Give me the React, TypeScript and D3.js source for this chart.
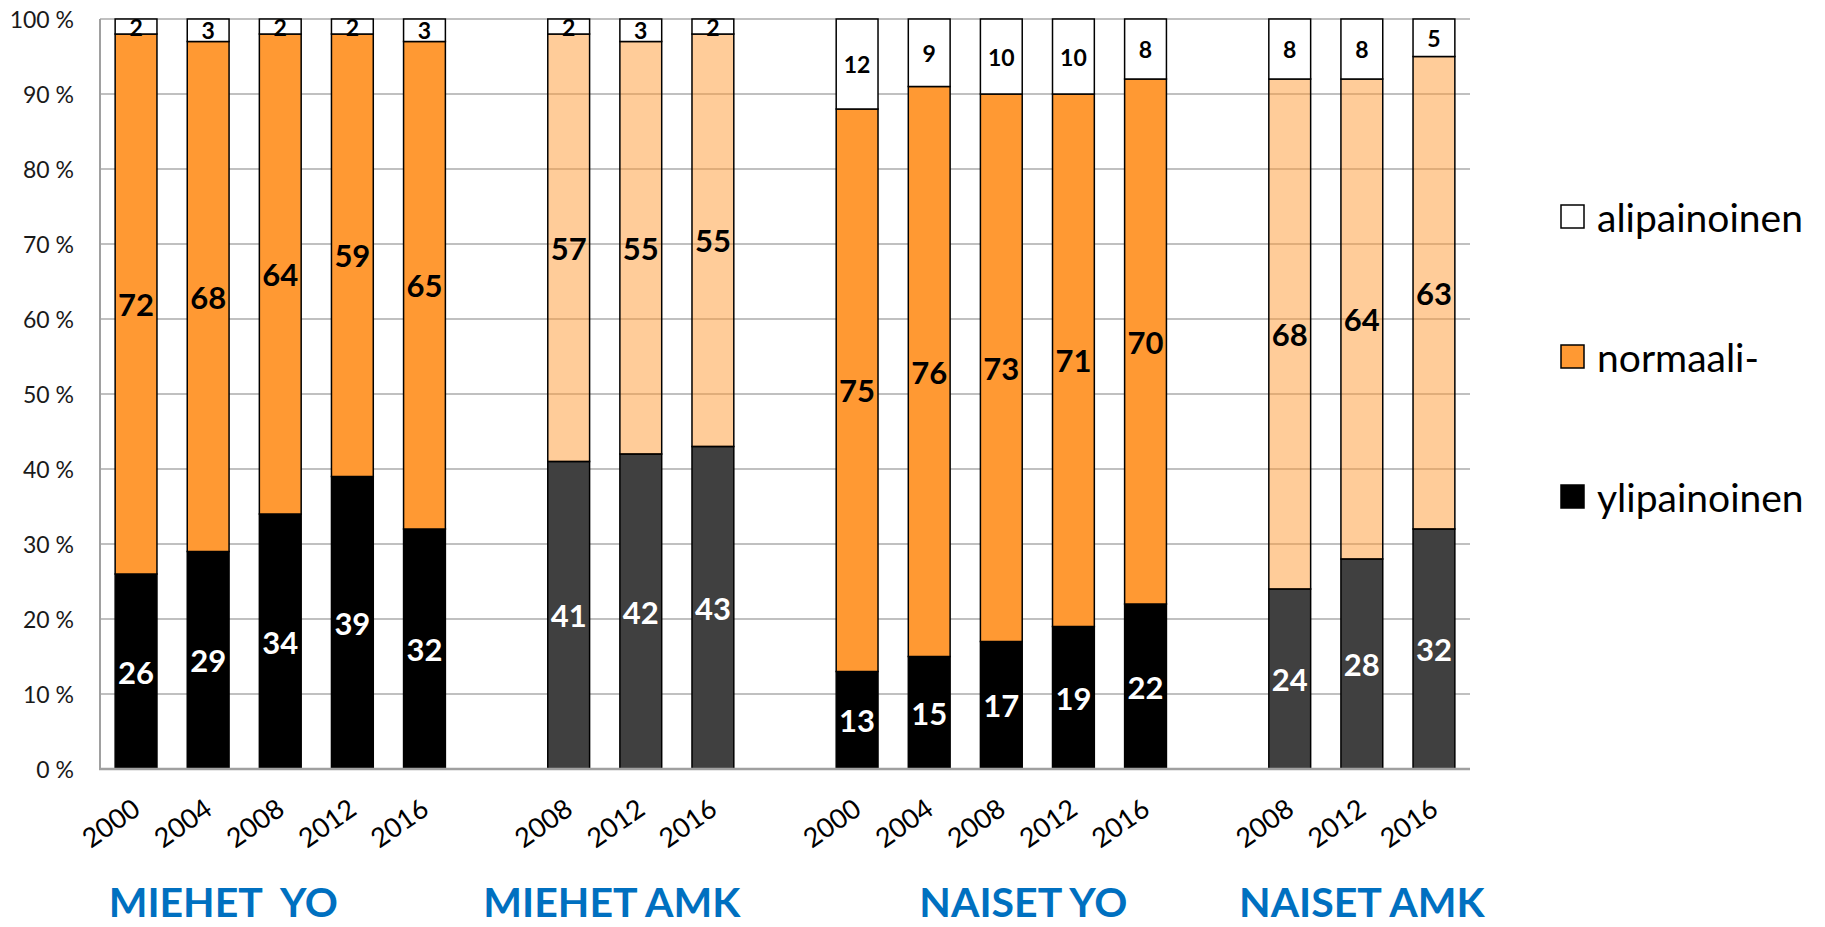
import * as d3 from "d3";

// groups and their survey years
const groupNames = ["MIEHET  YO", "MIEHET AMK", "NAISET YO", "NAISET AMK"];
const groupYears = [
  ["2000", "2004", "2008", "2012", "2016"],
  ["2008", "2012", "2016"],
  ["2000", "2004", "2008", "2012", "2016"],
  ["2008", "2012", "2016"],
];

// values (%) per group, same order as the years
const ylipainoinen = [[26, 29, 34, 39, 32], [41, 42, 43], [13, 15, 17, 19, 22], [24, 28, 32]];
const normaali = [[72, 68, 64, 59, 65], [57, 55, 55], [75, 76, 73, 71, 70], [68, 64, 63]];
const alipainoinen = [[2, 3, 2, 2, 3], [2, 3, 2], [12, 9, 10, 10, 8], [8, 8, 5]];

const legendNames = ["alipainoinen", "normaali-", "ylipainoinen"];
const yTicks = [0, 10, 20, 30, 40, 50, 60, 70, 80, 90, 100];

const W = 1825;
const H = 927;
const font = "Lato, 'Open Sans', sans-serif";

export default function App() {
  const marginLeft = 100;
  const plotRight = 1470;
  const plotTop = 19;
  const plotBottom = 769;

  // one slot per bar, plus an empty slot between groups
  type Row = { key: string; g: number; year: string; yli: number; norm: number; ali: number };
  const rows: Row[] = [];
  const domain: string[] = [];
  groupYears.forEach((ys, g) => {
    ys.forEach((year, i) => {
      const key = `${g}-${year}`;
      domain.push(key);
      rows.push({ key, g, year, yli: ylipainoinen[g][i], norm: normaali[g][i], ali: alipainoinen[g][i] });
    });
    if (g < groupYears.length - 1) domain.push(`gap${g}`);
  });

  const x = d3
    .scaleBand<string>()
    .domain(domain)
    .range([marginLeft, plotRight])
    .paddingInner(0.42)
    .paddingOuter(0.21);
  const y = d3.scaleLinear().domain([0, 100]).range([plotBottom, plotTop]);
  const bw = x.bandwidth();

  const isAmk = (g: number) => g === 1 || g === 3;
  const groupLabelShift = [-57, -29, 22, 0];

  return (
    <svg width={W} height={H} style={{ position: "absolute", left: 0, top: 0, background: "#fff" }}>
      <defs>
        <clipPath id="plotclip">
          <rect x={0} y={plotTop} width={W} height={plotBottom - plotTop} />
        </clipPath>
      </defs>

      {/* gridlines */}
      {yTicks.map((t) => (
        <line key={t} x1={marginLeft} x2={plotRight} y1={y(t)} y2={y(t)} stroke="#c0c0c0" strokeWidth={2} />
      ))}
      {/* y tick labels */}
      {yTicks.map((t) => (
        <text
          key={"l" + t}
          x={74}
          y={y(t)}
          textAnchor="end"
          dominantBaseline="central"
          fontFamily={font}
          fontSize={23}
          fill="#1a1a1a"
        >
          {t} %
        </text>
      ))}

      {/* stacked bars */}
      {rows.map((r) => {
        const x0 = x(r.key)!;
        const amk = isAmk(r.g);
        return (
          <g key={r.key}>
            <rect
              x={x0}
              y={y(r.yli)}
              width={bw}
              height={y(0) - y(r.yli)}
              fill={amk ? "#404040" : "#000"}
              stroke="#000"
              strokeWidth={1.5}
            />
            <rect
              x={x0}
              y={y(r.yli + r.norm)}
              width={bw}
              height={y(r.yli) - y(r.yli + r.norm)}
              fill="#ff9933"
              fillOpacity={amk ? 0.5 : 1}
              stroke="#000"
              strokeWidth={1.5}
            />
            <rect
              x={x0}
              y={y(100)}
              width={bw}
              height={y(r.yli + r.norm) - y(100)}
              fill="#fff"
              stroke="#000"
              strokeWidth={1.5}
            />
          </g>
        );
      })}

      {/* axes */}
      <line x1={marginLeft} x2={marginLeft} y1={plotTop} y2={plotBottom} stroke="#a0a0a0" strokeWidth={2} />
      <line x1={marginLeft - 1} x2={plotRight} y1={plotBottom} y2={plotBottom} stroke="#a0a0a0" strokeWidth={2.5} />

      {/* data labels */}
      {rows.map((r) => {
        const cx = x(r.key)! + bw / 2;
        return (
          <g key={"d" + r.key} fontFamily={font} fontWeight="bold" textAnchor="middle" dominantBaseline="central">
            <text x={cx} y={y(r.yli / 2)} fontSize={31} fill="#fff">
              {r.yli}
            </text>
            <text x={cx} y={y(r.yli + r.norm / 2)} fontSize={31} fill="#000">
              {r.norm}
            </text>
            <text x={cx} y={y(100 - r.ali / 2)} fontSize={23} fill="#000" clipPath="url(#plotclip)">
              {r.ali}
            </text>
          </g>
        );
      })}

      {/* x tick labels */}
      {rows.map((r) => {
        const ax = x(r.key)! + bw / 2 + 6;
        const ay = 813;
        return (
          <text
            key={"x" + r.key}
            x={ax}
            y={ay}
            transform={`rotate(-35, ${ax}, ${ay})`}
            textAnchor="end"
            fontFamily={font}
            fontSize={27}
            fill="#000"
          >
            {r.year}
          </text>
        );
      })}

      {/* group titles */}
      {groupNames.map((name, g) => {
        const keys = groupYears[g].map((yr) => `${g}-${yr}`);
        const mid = (x(keys[0])! + x(keys[keys.length - 1])! + bw) / 2;
        return (
          <text
            key={name}
            x={mid + groupLabelShift[g]}
            y={917}
            textAnchor="middle"
            fontFamily={font}
            fontWeight="bold"
            fontSize={41}
            fill="#0070c0"
            style={{ whiteSpace: "pre" }}
          >
            {name}
          </text>
        );
      })}

      {/* legend */}
      {legendNames.map((name, i) => {
        const cy = 217 + i * 140;
        const fill = i === 0 ? "#fff" : i === 1 ? "#ff9933" : "#000";
        return (
          <g key={name}>
            <rect x={1561} y={cy - 12} width={23} height={23} fill={fill} stroke="#000" strokeWidth={1.5} />
            <text x={1597} y={cy} dominantBaseline="central" fontFamily={font} fontSize={39} fill="#000">
              {name}
            </text>
          </g>
        );
      })}
    </svg>
  );
}
